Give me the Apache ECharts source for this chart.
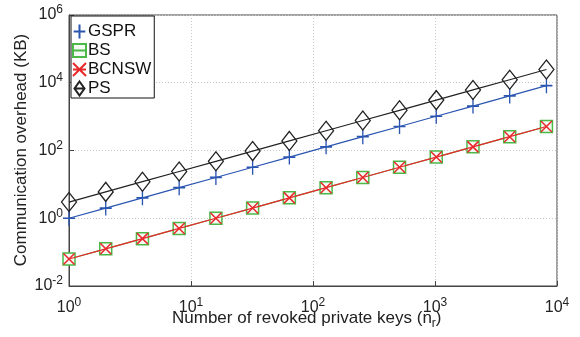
<!DOCTYPE html>
<html><head><meta charset="utf-8">
<script src="https://cdn.jsdelivr.net/npm/echarts@6/dist/echarts.min.js"></script>
<style>html,body{margin:0;padding:0;background:#fff}#c{width:580px;height:337px}</style>
</head><body><div id="c"></div>
<script>
const revokedKeys = [1,2,4,8,16,32,64,128,256,512,1024,2048,4096,8192];
const gsprValues  = [1,2,4,8,16,32,64,128,256,512,1024,2048,4096,8192];
const bsValues    = [0.0625,0.125,0.25,0.5,1,2,4,8,16,32,64,128,256,512];
const bcnswValues = [0.0625,0.125,0.25,0.5,1,2,4,8,16,32,64,128,256,512];
const psValues    = [3,6,12,24,48,96,192,384,768,1536,3072,6144,12288,24576];
const seriesNames = ['GSPR','BS','BCNSW','PS'];
const xTitle = 'Number of revoked private keys (n';
const xTitleSub = 'r';
const yTitle = 'Communication overhead (KB)';

const FONT = 'Liberation Sans, Arial, Helvetica, sans-serif';
const pair = (vals) => revokedKeys.map((x,i)=>[x, vals[i]]);
const supFmt = v => '{b|10}{s|' + Math.round(Math.log10(v)) + '}';
const rich = {
  b:{fontSize:16, fontFamily:FONT, color:'#222'},
  s:{fontSize:12, fontFamily:FONT, color:'#222', padding:[0,0,10,0]}
};
const C = {GSPR:'#2a55b0', BS:'#4cb848', BCNSW:'#e8282b', PS:'#222'};
const chart = echarts.init(document.getElementById('c'));
chart.setOption({
  animation:false,
  backgroundColor:'#fff',
  grid:{left:69, right:23, top:15, bottom:51, outerBoundsMode:'none', containLabel:false,
        show:true, borderColor:'#444', borderWidth:1, backgroundColor:'transparent'},
  graphic:[
    {type:'text', left:172, top:310, z:10, silent:true,
     style:{text:'{t|'+xTitle+'}{sub|'+xTitleSub+'}{t|)}', fill:'#222',
       rich:{t:{fontSize:17,fontFamily:FONT,fill:'#222',color:'#222'},
             sub:{fontSize:12,fontFamily:FONT,fill:'#222',color:'#222',padding:[10,0,0,0]}}}},
    {type:'text', x:13, y:150, rotation:Math.PI/2, z:10, silent:true,
     style:{text:yTitle, font:'17px '+FONT, fill:'#222', align:'center', verticalAlign:'top'}}
  ],
  legend:{
    left:71, top:16, orient:'vertical', itemGap:2, itemWidth:13, itemHeight:14,
    backgroundColor:'#fff', borderColor:'#111', borderWidth:1, padding:[7,3,1,1],
    textStyle:{fontSize:17, lineHeight:17, fontFamily:FONT, color:'#111', padding:[0,0,0,-3]},
    data:[
      {name:seriesNames[0], icon:'path://M5,0L5,12M0,6L10,6'},
      {name:seriesNames[1], icon:'path://M0,0L10,0L10,10L0,10ZM0,5L10,5'},
      {name:seriesNames[2], icon:'path://M0,0L10,10M10,0L0,10M0,5L10,5'},
      {name:seriesNames[3], icon:'path://M5,0L10,7L5,14L0,7ZM0,7L10,7'}
    ]
  },
  xAxis:{
    type:'log', logBase:10, min:1, max:10000,
    axisLine:{lineStyle:{color:'#444'}},
    axisTick:{inside:true, length:5, lineStyle:{color:'#444'}},
    axisLabel:{formatter:supFmt, rich:rich, margin:11},
    splitLine:{show:true, lineStyle:{type:[1,2], color:'#c8c8c8'}}
  },
  yAxis:{
    type:'log', logBase:10, min:0.01, max:1000000, interval:2,
    axisLine:{lineStyle:{color:'#444'}},
    axisTick:{inside:true, length:5, lineStyle:{color:'#444'}},
    axisLabel:{formatter:supFmt, rich:rich, margin:6},
    splitLine:{show:true, lineStyle:{type:[1,2], color:'#c8c8c8'}}
  },
  series:[
    {name:'GSPR', type:'line', data:pair(gsprValues), symbol:'path://M5,0L5,12M0,6L10,6', symbolSize:[12,15],
     lineStyle:{color:C.GSPR, width:1.2}, itemStyle:{color:'transparent', borderColor:C.GSPR, borderWidth:1.5}, z:3},
    {name:'BS', type:'line', data:pair(bsValues), symbol:'rect', symbolSize:12,
     lineStyle:{color:C.BS, width:1.2}, itemStyle:{color:'#f4fbf2', borderColor:C.BS, borderWidth:1.5}, z:2},
    {name:'BCNSW', type:'line', data:pair(bcnswValues), symbol:'path://M0,0L10,10M10,0L0,10', symbolSize:11,
     lineStyle:{color:C.BCNSW, width:1.2}, itemStyle:{color:'transparent', borderColor:C.BCNSW, borderWidth:1.5}, z:4},
    {name:'PS', type:'line', data:pair(psValues), symbol:'diamond', symbolSize:[15,19],
     lineStyle:{color:C.PS, width:1.2}, itemStyle:{color:'transparent', borderColor:C.PS, borderWidth:1.3}, z:5}
  ]
});
</script></body></html>
